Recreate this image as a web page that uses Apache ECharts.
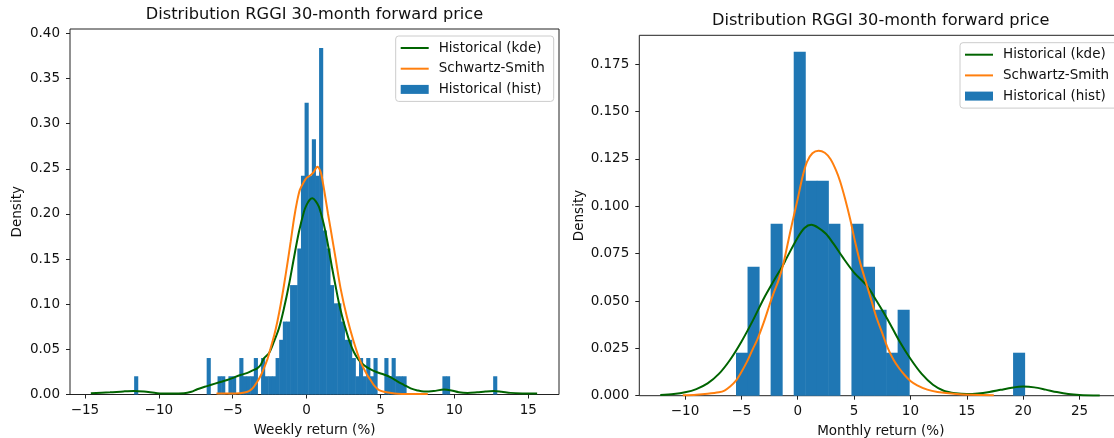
<!DOCTYPE html>
<html><head><meta charset="utf-8">
<script src="https://cdn.jsdelivr.net/npm/echarts@6/dist/echarts.min.js"></script>
<style>html,body{margin:0;padding:0;background:#fff}#c{width:1114px;height:438px}</style>
</head><body><div id="c"></div>
<script>
// ---------------- data ----------------
const chartTitle = 'Distribution RGGI 30-month forward price';
const seriesNames = ['Historical (kde)', 'Schwartz-Smith', 'Historical (hist)'];

// weekly returns histogram: 100 bins
const weeklyBinStart = -11.67;
const weeklyBinWidth = 0.2454;
const weeklyDensity = [
  0.0202,0,0,0,0,0,0,0,0,0,
  0,0,0,0,0,0,0,0,0,0,
  0.0404,0,0,0.0202,0.0202,0,0.0202,0.0202,0,0.0404,
  0.0202,0.0202,0.0202,0.0404,0,0.0404,0.0202,0.0202,0.0202,0.0404,
  0.0606,0.0808,0.0808,0.1212,0.1212,0.1616,0.2424,0.3232,0.2424,0.2828,
  0.2424,0.3838,0.1818,0.1616,0.1212,0.101,0.101,0.0808,0.0606,0.0606,
  0.0404,0.0202,0.0404,0.0202,0.0404,0.0202,0.0404,0,0,0.0404,
  0.0202,0.0404,0.0202,0.0202,0.0202,0,0,0,0,0,
  0,0,0,0,0,0.0202,0.0202,0,0,0,
  0,0,0,0,0,0,0,0,0,0.0202
];
const weeklyKde = [
  [-14.6,0.0013],[-13.3,0.0024],[-12.4,0.0034],[-11.7,0.0039],[-11.0,0.0032],[-10.1,0.0014],
  [-9.2,0.0010],[-8.3,0.0013],[-7.8,0.003],[-7.4,0.0058],[-6.9,0.0085],[-6.5,0.0105],
  [-5.9,0.0135],[-5.37,0.016],[-4.9,0.019],[-4.47,0.0216],[-4.0,0.024],[-3.6,0.027],
  [-3.34,0.029],[-3.1,0.033],[-2.89,0.040],[-2.55,0.0456],[-2.21,0.0585],[-1.87,0.0733],
  [-1.53,0.0955],[-1.20,0.121],[-0.86,0.151],[-0.52,0.180],[-0.18,0.2025],[0.0,0.21],
  [0.2,0.2155],[0.39,0.2173],[0.6,0.2145],[0.83,0.208],[1.05,0.196],[1.28,0.180],
  [1.5,0.161],[1.73,0.1398],[1.95,0.121],[2.17,0.1028],[2.4,0.087],[2.63,0.0733],
  [2.9,0.059],[3.19,0.0474],[3.5,0.039],[3.87,0.0327],[4.3,0.028],[4.77,0.0246],
  [5.23,0.0222],[5.7,0.019],[6.14,0.0145],[6.6,0.0105],[7.04,0.0068],[7.5,0.0045],
  [7.94,0.0032],[8.6,0.0038],[9.3,0.0055],[9.8,0.0045],[10.3,0.0025],[10.9,0.0018],
  [11.55,0.0025],[12.1,0.0033],[12.67,0.0038],[13.2,0.003],[13.8,0.0018],[14.6,0.0012],[15.6,0.001]
];
const weeklySS = [
  [-6.1,0.001],[-5.2,0.001],[-4.5,0.0015],[-4.0,0.003],[-3.65,0.007],[-3.34,0.0142],
  [-3.1,0.021],[-2.89,0.029],[-2.65,0.039],[-2.44,0.051],[-2.2,0.065],[-1.98,0.0806],
  [-1.75,0.1],[-1.53,0.121],[-1.3,0.145],[-1.08,0.169],[-0.85,0.195],[-0.63,0.2150],
  [-0.45,0.2270],[-0.18,0.2357],[0.0,0.2400],[0.27,0.243],[0.5,0.247],[0.72,0.2523],
  [0.95,0.2467],[1.1,0.235],[1.28,0.2173],[1.45,0.2],[1.62,0.184],[1.96,0.151],
  [2.3,0.1176],[2.75,0.0844],[3.19,0.0585],[3.65,0.0363],[4.1,0.0216],[4.33,0.016],
  [4.55,0.0105],[4.89,0.005],[5.23,0.0031],[6.14,0.0009],[7.2,0.0006],[8.2,0.0005]
];

// monthly returns histogram: 25 bins
const monthlyBinStart = -5.48;
const monthlyBinWidth = 1.0245;
const monthlyDensity = [0.0227,0.0681,0,0.0908,0,0.1816,0.1135,0.1135,0.0908,0,0.0908,0.0681,0.0454,0.0227,0.0454,0,0,0,0,0,0,0,0,0,0.0227];
const monthlyKde = [
  [-12.2,0.0004],[-11,0.0009],[-10,0.0018],[-9,0.0035],[-8,0.0065],[-7,0.0115],
  [-6,0.019],[-5,0.0285],[-4,0.0395],[-3,0.0515],[-2,0.062],[-1.3,0.069],
  [-1,0.0725],[0,0.0835],[0.6,0.0885],[1.2,0.0902],[1.8,0.0888],[2.5,0.0855],
  [3.2,0.080],[4,0.073],[5,0.065],[6.15,0.058],[7,0.050],[8,0.040],
  [9,0.029],[10,0.0195],[11,0.0115],[12,0.0058],[13,0.0025],[14,0.0013],
  [15,0.0009],[16,0.0012],[17,0.002],[18,0.0031],[19,0.0042],[20,0.0048],
  [21,0.0044],[22,0.0032],[23,0.0019],[24,0.0009],[25,0.0004],[26.8,0.0001]
];
const monthlySS = [
  [-10.2,0.0002],[-9,0.0005],[-8,0.001],[-7,0.0018],[-6.5,0.0027],[-6,0.0048],
  [-5.5,0.0078],[-5.1,0.0115],[-4.5,0.018],[-4,0.0245],[-3.6,0.0295],[-3,0.039],
  [-2.5,0.048],[-2.15,0.054],[-1.7,0.061],[-1.3,0.069],[-0.9,0.080],[-0.5,0.091],
  [0,0.104],[0.4,0.115],[0.82,0.1235],[1.3,0.128],[1.85,0.1294],[2.4,0.1283],
  [2.9,0.125],[3.4,0.119],[3.77,0.113],[4.2,0.104],[4.66,0.093],[5.1,0.081],
  [5.55,0.07],[6.15,0.058],[6.6,0.049],[7.0,0.041],[7.5,0.033],[8.0,0.025],
  [8.5,0.019],[9.0,0.0145],[9.5,0.0108],[10.0,0.0078],[10.6,0.0055],[11.5,0.0032],
  [12.4,0.002],[14.1,0.0009],[15.5,0.0005],[17.4,0.0003]
];

// tick values
const weeklyXTicks = [-15,-10,-5,0,5,10,15];
const weeklyYTicks = [0,0.05,0.10,0.15,0.20,0.25,0.30,0.35,0.40];
const monthlyXTicks = [-10,-5,0,5,10,15,20,25];
const monthlyYTicks = [0,0.025,0.05,0.075,0.10,0.125,0.15,0.175];
const xNames = ['Weekly return (%)', 'Monthly return (%)'];
const yName = 'Density';

// ---------------- chart ----------------
const FONT = '"DejaVu Sans", "Liberation Sans", sans-serif';
const TXT = '#111';
const C_BLUE = '#1f77b4', C_GREEN = '#006400', C_ORANGE = '#ff7f0e';

function binsToData(start, width, dens) {
  const out = [];
  dens.forEach((d, i) => { if (d > 0) out.push([start + i * width, start + (i + 1) * width, d]); });
  return out;
}
const minus = v => String(v).replace('-', '\u2212');

function renderBar(params, api) {
  const p0 = api.coord([api.value(0), api.value(2)]);
  const p1 = api.coord([api.value(1), 0]);
  return { type: 'rect', shape: { x: p0[0], y: p0[1], width: p1[0] - p0[0] + 0.5, height: p1[1] - p0[1] },
           style: { fill: C_BLUE } };
}

function xAxis(gi, min, max, ticks, name) {
  return {
    type: 'value', gridIndex: gi, min, max,
    name, nameLocation: 'middle', nameGap: 29,
    nameTextStyle: { fontFamily: FONT, fontSize: 13.5, color: TXT },
    axisLine: { show: false, onZero: false },
    axisTick: { show: true, inside: false, length: 4, lineStyle: { color: '#222' }, customValues: ticks },
    axisLabel: { fontFamily: FONT, fontSize: 13.5, color: TXT, margin: 9, customValues: ticks, formatter: v => minus(v) },
    splitLine: { show: false }
  };
}
function yAxis(gi, min, max, ticks, dec, gap) {
  return {
    type: 'value', gridIndex: gi, min, max,
    name: yName, nameLocation: 'middle', nameGap: gap, nameRotate: 90,
    nameTextStyle: { fontFamily: FONT, fontSize: 13.5, color: TXT },
    axisLine: { show: false, onZero: false },
    axisTick: { show: true, inside: false, length: 4, lineStyle: { color: '#222' }, customValues: ticks },
    axisLabel: { fontFamily: FONT, fontSize: 13.5, color: TXT, margin: 10, customValues: ticks, formatter: v => v.toFixed(dec) },
    splitLine: { show: false }
  };
}
function legend(left, top) {
  const hideSym = { opacity: 0, borderWidth: 0 };
  return {
    orient: 'vertical', left, top,
    data: [
      { name: seriesNames[0], itemStyle: hideSym },
      { name: seriesNames[1], itemStyle: hideSym },
      { name: seriesNames[2], icon: 'rect' }
    ],
    itemWidth: 28, itemHeight: 9, itemGap: 4.7,
    padding: [4, 9, 4, 4],
    backgroundColor: 'rgba(255,255,255,0.8)', borderColor: '#cccccc', borderWidth: 1, borderRadius: 3,
    textStyle: { fontFamily: FONT, fontSize: 13.5, color: TXT, lineHeight: 16, padding: [0, 0, 0, 5] },
    selectedMode: false
  };
}

const option = {
  animation: false,
  backgroundColor: '#fff',
  title: [
    { text: chartTitle, left: 314.5, top: 6, textAlign: 'center', padding: 0,
      textStyle: { fontFamily: FONT, fontSize: 16.2, fontWeight: 'normal', color: TXT, lineHeight: 18 } },
    { text: chartTitle, left: 880.7, top: 12, textAlign: 'center', padding: 0,
      textStyle: { fontFamily: FONT, fontSize: 16.2, fontWeight: 'normal', color: TXT, lineHeight: 18 } }
  ],
  grid: [
    { left: 70, top: 29, width: 489, height: 365.5, show: true, borderColor: '#222', borderWidth: 1,
      backgroundColor: 'transparent', containLabel: false, outerBoundsMode: 'none' },
    { left: 639.3, top: 35.3, width: 483, height: 360.4, show: true, borderColor: '#222', borderWidth: 1,
      backgroundColor: 'transparent', containLabel: false, outerBoundsMode: 'none' }
  ],
  xAxis: [
    xAxis(0, -16.01, 17.08, weeklyXTicks, xNames[0]),
    xAxis(1, -14.06, 28.8, monthlyXTicks, xNames[1])
  ],
  yAxis: [
    yAxis(0, 0, 0.4049, weeklyYTicks, 2, 46),
    yAxis(1, 0, 0.1903, monthlyYTicks, 3, 53)
  ],
  legend: [legend(395.7, 36), legend(960, 42.7)],
  series: [
    { name: seriesNames[2], type: 'custom', xAxisIndex: 0, yAxisIndex: 0, renderItem: renderBar,
      itemStyle: { color: C_BLUE }, encode: { x: [0, 1], y: 2 },
      data: binsToData(weeklyBinStart, weeklyBinWidth, weeklyDensity), z: 1 },
    { name: seriesNames[0], type: 'line', xAxisIndex: 0, yAxisIndex: 0, data: weeklyKde, symbol: 'none',
      smooth: 0.3, lineStyle: { color: C_GREEN, width: 2 }, itemStyle: { color: C_GREEN }, z: 3 },
    { name: seriesNames[1], type: 'line', xAxisIndex: 0, yAxisIndex: 0, data: weeklySS, symbol: 'none',
      smooth: 0.3, lineStyle: { color: C_ORANGE, width: 2 }, itemStyle: { color: C_ORANGE }, z: 4 },
    { name: seriesNames[2], type: 'custom', xAxisIndex: 1, yAxisIndex: 1, renderItem: renderBar,
      itemStyle: { color: C_BLUE }, encode: { x: [0, 1], y: 2 },
      data: binsToData(monthlyBinStart, monthlyBinWidth, monthlyDensity), z: 1 },
    { name: seriesNames[0], type: 'line', xAxisIndex: 1, yAxisIndex: 1, data: monthlyKde, symbol: 'none',
      smooth: 0.3, lineStyle: { color: C_GREEN, width: 2 }, itemStyle: { color: C_GREEN }, z: 3 },
    { name: seriesNames[1], type: 'line', xAxisIndex: 1, yAxisIndex: 1, data: monthlySS, symbol: 'none',
      smooth: 0.3, lineStyle: { color: C_ORANGE, width: 2 }, itemStyle: { color: C_ORANGE }, z: 4 }
  ]
};
const chart = echarts.init(document.getElementById('c'), null, { renderer: 'canvas' });
chart.setOption(option);
</script>
</body></html>
